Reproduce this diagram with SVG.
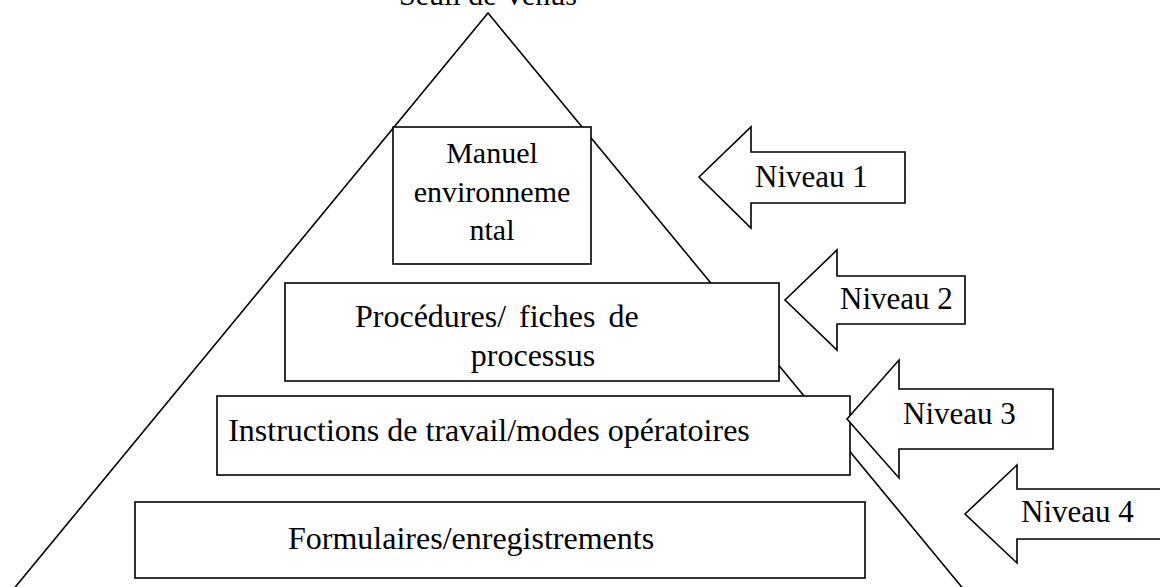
<svg xmlns="http://www.w3.org/2000/svg" width="1160" height="587" viewBox="0 0 1160 587">
  <style>
    .ln { fill: none; stroke: #000; stroke-width: 1.6; }
    .box { fill: #fff; stroke: #000; stroke-width: 1.6; }
    .t { font-family: "Liberation Serif", "Times New Roman", serif; font-size: 32px; fill: #000; }
    .s { font-size: 30px; }
    .n { font-size: 31px; }
    .c { text-anchor: middle; }
  </style>
  <rect width="1160" height="587" fill="#fff"/>

  <!-- pyramid outline -->
  <g id="pyramid">
    <polyline class="ln" points="12,591 488,13 965,591"/>
    <text class="t s c" x="488" y="5">Seuil de Venus</text>
  </g>

  <!-- levels of the pyramid -->
  <g id="manuel">
    <rect class="box" x="393" y="127" width="198" height="137"/>
    <text class="t s c" x="492" y="163">Manuel</text>
    <text class="t s c" x="492" y="202">environneme</text>
    <text class="t s c" x="492" y="240">ntal</text>
  </g>
  <g id="procedures">
    <rect class="box" x="285" y="283" width="494" height="98"/>
    <text class="t" x="355" y="327" word-spacing="5">Procédures/ fiches de</text>
    <text class="t c" x="533" y="366">processus</text>
  </g>
  <g id="instructions">
    <rect class="box" x="217" y="396" width="633" height="79"/>
    <text class="t c" x="489" y="441">Instructions de travail/modes opératoires</text>
  </g>
  <g id="formulaires">
    <rect class="box" x="135" y="502" width="730" height="76"/>
    <text class="t" x="288" y="549">Formulaires/enregistrements</text>
  </g>

  <!-- level arrows -->
  <g id="connectors">
    <g id="niveau1">
      <polygon class="box" points="699,177 751,127 751,152 905,152 905,203 751,203 751,228"/>
      <text class="t n" x="755" y="187">Niveau 1</text>
    </g>
    <g id="niveau2">
      <polygon class="box" points="785,300 837,250 837,276 965,276 965,324 837,324 837,350"/>
      <text class="t n" x="840" y="309">Niveau 2</text>
    </g>
    <g id="niveau3">
      <polygon class="box" points="847,419 899,360 899,389 1053,389 1053,449 899,449 899,478"/>
      <text class="t n" x="903" y="424">Niveau 3</text>
    </g>
    <g id="niveau4">
      <polygon class="box" points="965,514 1017,465 1017,489 1175,489 1175,539 1017,539 1017,563"/>
      <text class="t n" x="1021" y="522">Niveau 4</text>
    </g>
  </g>
</svg>
